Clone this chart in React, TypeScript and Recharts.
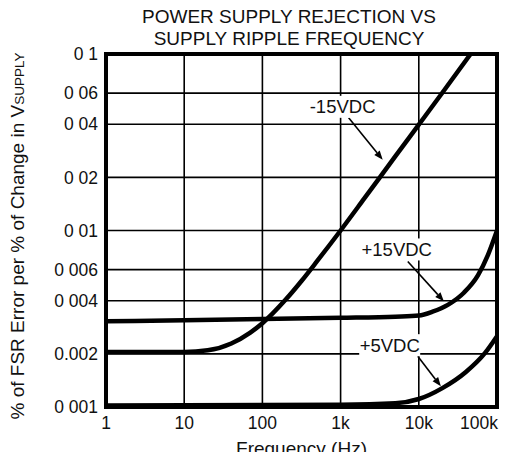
import React from "react";
import {
  LineChart,
  Line,
  XAxis,
  YAxis,
  CartesianGrid,
  ReferenceArea,
  ReferenceLine,
  ReferenceDot,
} from "recharts";

const FONT = '"Liberation Sans", Arial, Helvetica, sans-serif';

const FREQ_TICKS = [1, 10, 100, 1000, 10000, 100000];
const FREQ_LABELS = ["1", "10", "100", "1k", "10k", "100k"];
const ERR_TICKS = [0.001, 0.002, 0.004, 0.006, 0.01, 0.02, 0.04, 0.06, 0.1];
const ERR_LABELS = ["0 001", "0.002", "0 004", "0 006", "0 01", "0 02", "0 04", "0 06", "0 1"];

// -15VDC
const neg15Freq = [1, 10, 20, 40, 70, 100, 200, 316, 500, 1000, 2000, 5000, 10000, 20000, 46000];
const neg15Err = [0.00205, 0.00205, 0.002094, 0.00229, 0.002642, 0.002985, 0.004074, 0.005176, 0.0067, 0.01, 0.01514, 0.0263, 0.0398, 0.0603, 0.1];

// +15VDC
const pos15Freq = [1, 10, 100, 1000, 5000, 10000, 15000, 23500, 37700, 57000, 76700, 100000];
const pos15Err = [0.00306, 0.0031, 0.00315, 0.0032, 0.00325, 0.0033, 0.00347, 0.00379, 0.00444, 0.00557, 0.00728, 0.01];

// +5VDC
const pos5Freq = [1, 1000, 5000, 10000, 20000, 40000, 70000, 100000];
const pos5Err = [0.00102, 0.00103, 0.00105, 0.00111, 0.00128, 0.00158, 0.00202, 0.00252];

// annotations: label position, arrow start, arrow tip (data coords)
const annLabels = ["-15VDC", "+15VDC", "+5VDC"];
const annAt = [
  { f: 1061, v: 0.0502 },
  { f: 5224, v: 0.00781 },
  { f: 4246, v: 0.00224 },
];
const annArrow = [
  [{ x: 1267, y: 0.0435 }, { x: 3453, y: 0.0252 }],
  [{ x: 7228, y: 0.00668 }, { x: 20930, y: 0.00397 }],
  [{ x: 9705, y: 0.00194 }, { x: 19140, y: 0.00131 }],
];

const zip = (fs: number[], vs: number[]) => fs.map((f, i) => ({ f, v: vs[i] }));
const neg15 = zip(neg15Freq, neg15Err);
const pos15 = zip(pos15Freq, pos15Err);
const pos5 = zip(pos5Freq, pos5Err);

function Arrow(p: any) {
  const { x1, y1, x2, y2 } = p;
  const ang = Math.atan2(y2 - y1, x2 - x1);
  const len = 9;
  const w = 3.5;
  const bx = x2 - len * Math.cos(ang);
  const by = y2 - len * Math.sin(ang);
  const px = -Math.sin(ang) * w;
  const py = Math.cos(ang) * w;
  return (
    <g>
      <line x1={x1} y1={y1} x2={bx} y2={by} stroke="#000" strokeWidth={1.6} />
      <polygon points={`${x2},${y2} ${bx + px},${by + py} ${bx - px},${by - py}`} fill="#000" />
    </g>
  );
}

function labelShape(text: string) {
  return (p: any) => {
    const w = text.length * 11;
    return (
      <g>
        <rect x={p.cx - w / 2 - 3} y={p.cy - 11} width={w + 6} height={22} fill="#fff" />
        <text
          x={p.cx}
          y={p.cy}
          dy="0.36em"
          textAnchor="middle"
          fontFamily={FONT}
          fontSize={18.5}
          fill="#111"
        >
          {text}
        </text>
      </g>
    );
  };
}

// last label ("100k") sits left of its gridline, as in the original
function FreqTick(p: any) {
  const last = p.payload.value === FREQ_TICKS[FREQ_TICKS.length - 1];
  return (
    <text
      x={last ? p.x + 12 : p.x}
      y={p.y}
      dy="0.71em"
      textAnchor={last ? "end" : "middle"}
      fontFamily={FONT}
      fontSize={17.5}
      fill="#111"
    >
      {FREQ_LABELS[FREQ_TICKS.indexOf(p.payload.value)] ?? ""}
    </text>
  );
}

export default function App() {
  return (
    <div style={{ position: "relative", width: 502, height: 444, fontFamily: FONT, color: "#111" }}>
      <div
        style={{
          position: "absolute",
          left: 81,
          top: -2,
          width: 400,
          textAlign: "center",
          fontSize: 19,
          lineHeight: "22px",
        }}
      >
        POWER SUPPLY REJECTION VS
        <br />
        SUPPLY RIPPLE FREQUENCY
      </div>
      <div
        style={{
          position: "absolute",
          left: -200,
          top: 217,
          width: 420,
          height: 22,
          lineHeight: "22px",
          textAlign: "center",
          fontSize: 19,
          transform: "rotate(-90deg)",
          whiteSpace: "nowrap",
        }}
      >
        % of FSR Error per % of Change in V<span style={{ fontSize: 13.5 }}>SUPPLY</span>
      </div>
      <LineChart
        width={502}
        height={452}
        margin={{ top: 46, right: 13, left: 0, bottom: 0 }}
        style={{ position: "absolute", left: 0, top: 0 }}
      >
        <CartesianGrid stroke="#000" strokeWidth={1.6} />
        <XAxis
          dataKey="f"
          type="number"
          scale="log"
          domain={[1, 100000]}
          ticks={FREQ_TICKS}
          allowDataOverflow
          height={53}
          axisLine={false}
          tickLine={false}
          tickSize={0}
          tickMargin={10}
          tick={<FreqTick />}
          label={{
            value: "Frequency (Hz)",
            position: "insideBottom",
            offset: 5,
            fill: "#111",
            fontSize: 19,
            fontFamily: FONT,
          }}
        />
        <YAxis
          type="number"
          scale="log"
          domain={[0.001, 0.1]}
          ticks={ERR_TICKS}
          allowDataOverflow
          width={98}
          axisLine={false}
          tickLine={false}
          tickSize={0}
          tickMargin={8}
          tick={{ fill: "#111", fontSize: 17.5, fontFamily: FONT }}
          tickFormatter={(v: number) => ERR_LABELS[ERR_TICKS.indexOf(v)] ?? ""}
        />
        {annLabels.map((t, i) => (
          <ReferenceDot
            key={"l" + t}
            x={annAt[i].f}
            y={annAt[i].v}
            ifOverflow="visible"
            shape={labelShape(t)}
          />
        ))}
        {annArrow.map((seg, i) => (
          <ReferenceLine key={"a" + i} segment={seg} ifOverflow="visible" shape={Arrow} />
        ))}
        <Line data={neg15} dataKey="v" type="monotone" stroke="#000" strokeWidth={4.5} dot={false} isAnimationActive={false} />
        <Line data={pos15} dataKey="v" type="monotone" stroke="#000" strokeWidth={4.5} dot={false} isAnimationActive={false} />
        <Line data={pos5} dataKey="v" type="monotone" stroke="#000" strokeWidth={4.5} dot={false} isAnimationActive={false} />
        <ReferenceArea
          x1={1}
          x2={100000}
          y1={0.001}
          y2={0.1}
          ifOverflow="visible"
          fill="none"
          fillOpacity={0}
          stroke="#000"
          strokeWidth={4}
        />
      </LineChart>
    </div>
  );
}
